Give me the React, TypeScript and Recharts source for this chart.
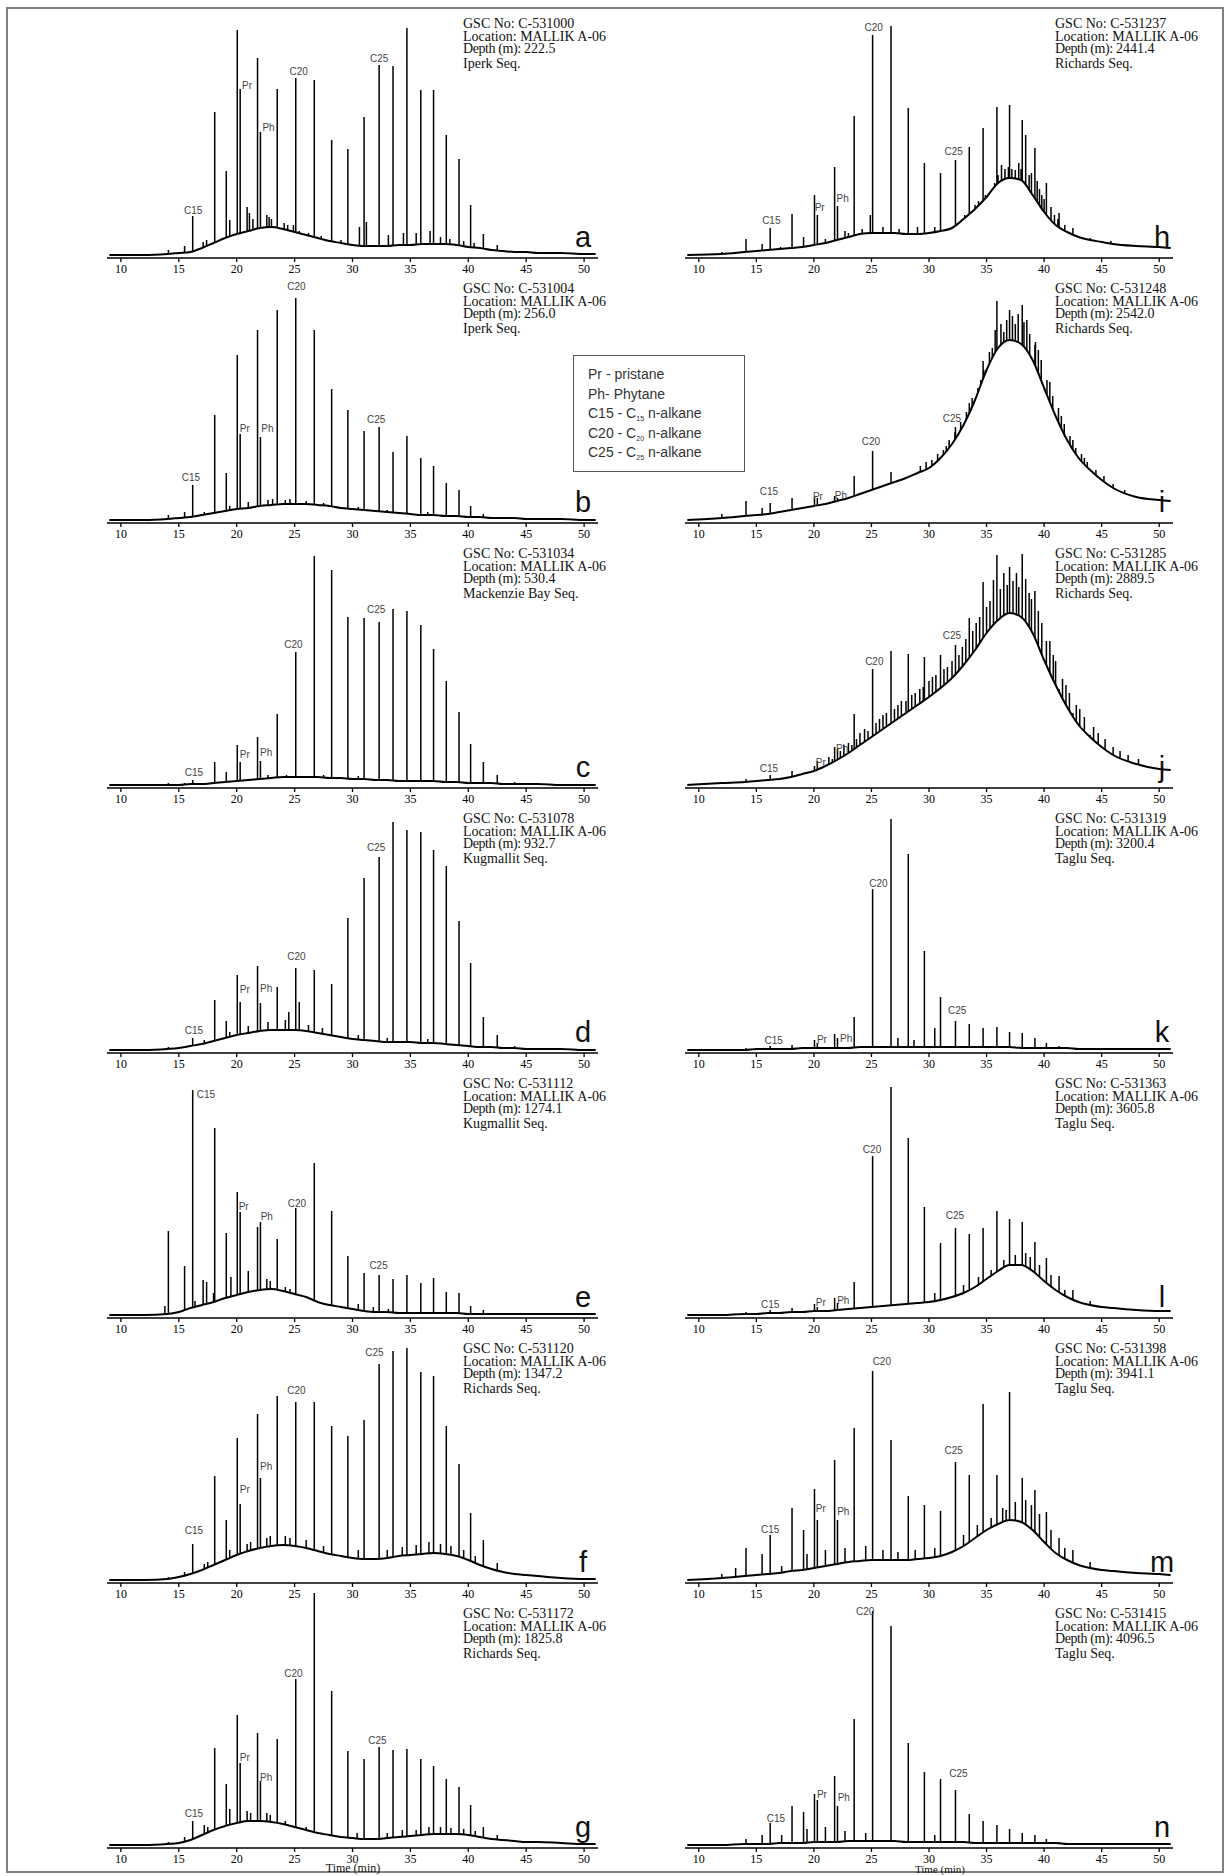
import React from "react"
import { ComposedChart, Area, Scatter, XAxis, YAxis } from "recharts"

// retention times (min) of the main peaks: C13?, C14, iso, C15, C16, iso, C17, Pr, C18, Ph, C19 ... C35
const TIMES = [12.0, 14.1, 15.5, 16.2, 18.1, 19.1, 20.05, 20.3, 21.8, 22.05, 23.5, 25.1, 26.7, 28.2, 29.6, 31.0, 32.3, 33.5, 34.7, 35.9, 37.0, 38.1, 39.2, 40.2, 41.3, 42.5, 44.0]
// sample times of the unresolved hump
const HUMP_T = [9, 12, 14, 15, 16, 17, 18, 19, 20, 21, 22, 23, 24, 25, 26, 27, 28, 29, 30, 31, 32, 33, 34, 35, 36, 37, 38, 39, 40, 41, 42, 43, 44, 45, 46, 48, 50, 51]
const TICKS = [10, 15, 20, 25, 30, 35, 40, 45, 50]
const LABEL_NAMES = ["C15", "Pr", "Ph", "C20", "C25"]

// ── a ──
const A_PEAKS = [0, 5, 9, 39, 143, 84, 225, 166, 197, 123, 166, 177, 175, 115, 106, 138, 190, 189, 227, 165, 165, 120, 96, 50, 21, 10, 4]
const A_HUMP = [0, 0, 1, 2, 3, 7, 12, 17, 21, 24, 27, 28, 26, 23, 20, 17, 14, 12, 10, 9, 9, 9, 10, 10, 11, 11, 11, 10, 8, 7, 5, 4, 3, 3, 2, 2, 1, 1]
const A_MINOR = [[17.1, 13], [17.4, 15], [18.0, 12], [19.4, 35], [20.9, 48], [21.1, 42], [21.4, 36], [22.6, 40], [22.8, 38], [23.0, 36], [24.1, 32], [24.4, 30], [24.9, 30], [25.4, 24], [26.2, 22], [27.3, 19], [29.0, 15], [30.6, 28], [31.2, 33], [33.1, 20], [34.4, 22], [35.5, 22], [36.7, 24], [37.6, 18], [38.4, 16], [39.6, 14], [40.5, 12]]
const A_LABELS = [[16.25, 45], [20.9, 170], [22.75, 128], [25.35, 184], [32.3, 197]]

// ── b ──
const B_PEAKS = [0, 5, 8, 35, 105, 47, 165, 86, 190, 83, 210, 222, 190, 131, 110, 89, 93, 68, 84, 62, 54, 37, 30, 14, 6, 3, 0]
const B_HUMP = [0, 0, 1, 2, 3, 5, 7, 9, 11, 12, 14, 15, 16, 16, 16, 15, 14, 12, 11, 10, 9, 8, 7, 6, 5, 5, 4, 4, 3, 3, 2, 2, 2, 1, 1, 1, 0, 0]
const B_MINOR = [[17.2, 8], [19.4, 14], [21.0, 18], [22.7, 20], [23.1, 21], [24.2, 20], [24.6, 21], [26.0, 19], [27.5, 17], [30.5, 13], [33.0, 10], [36.5, 8]]
const B_LABELS = [[16.05, 43], [20.7, 92], [22.65, 92], [25.15, 234], [32.05, 101]]

// ── c ──
const C_PEAKS = [0, 2, 2, 5, 23, 13, 40, 23, 48, 24, 71, 133, 229, 215, 168, 167, 163, 176, 174, 160, 136, 104, 73, 41, 23, 10, 3]
const C_HUMP = [0, 0, 0, 0, 1, 1, 2, 3, 4, 5, 6, 7, 8, 8, 8, 8, 7, 7, 6, 6, 5, 5, 4, 4, 4, 4, 3, 3, 2, 2, 2, 1, 1, 1, 1, 0, 0, 0]
const C_MINOR = [[22.7, 10], [24.3, 10], [27.5, 10], [30.5, 9]]
const C_LABELS = [[16.3, 13], [20.7, 31], [22.55, 33], [24.9, 141], [32.05, 176]]

// ── d ──
const D_PEAKS = [0, 3, 4, 12, 50, 29, 75, 48, 84, 47, 63, 82, 80, 66, 132, 172, 193, 228, 220, 218, 200, 184, 129, 87, 33, 15, 4]
const D_HUMP = [0, 0, 1, 2, 4, 6, 9, 12, 15, 17, 19, 20, 20, 20, 19, 17, 15, 13, 11, 10, 9, 8, 8, 8, 7, 7, 6, 5, 4, 3, 3, 2, 2, 1, 1, 1, 0, 0]
const D_MINOR = [[17.2, 10], [19.4, 18], [21.0, 24], [22.7, 28], [24.2, 30], [24.5, 38], [25.4, 48], [26.2, 25], [27.4, 22], [30.5, 15], [33.0, 12], [36.5, 11]]
const D_LABELS = [[16.3, 20], [20.7, 61], [22.55, 62], [25.15, 94], [32.05, 203]]

// ── e ──
const E_PEAKS = [0, 84, 49, 225, 187, 82, 123, 103, 88, 93, 76, 107, 152, 104, 59, 42, 40, 36, 40, 32, 37, 23, 22, 9, 5, 2, 0]
const E_HUMP = [0, 0, 1, 3, 7, 10, 13, 17, 20, 23, 25, 26, 24, 21, 18, 13, 10, 8, 6, 4, 3, 3, 2, 2, 2, 2, 2, 2, 1, 1, 1, 1, 1, 1, 1, 1, 1, 1]
const E_MINOR = [[13.8, 9], [16.4, 14], [17.1, 35], [17.4, 33], [18.0, 22], [19.5, 38], [21.0, 44], [22.6, 36], [22.9, 34], [24.2, 28], [24.6, 26], [30.5, 11], [31.8, 8], [33.1, 6]]
const E_LABELS = [[17.35, 221], [20.6, 109], [22.6, 99], [25.2, 112], [32.25, 50]]

// ── f ──
const F_PEAKS = [0, 3, 8, 36, 104, 60, 142, 76, 166, 102, 184, 178, 178, 154, 144, 160, 216, 229, 232, 208, 204, 154, 116, 67, 40, 17, 6]
const F_HUMP = [0, 0, 1, 3, 6, 10, 15, 20, 25, 29, 32, 34, 35, 34, 32, 29, 26, 24, 22, 21, 21, 22, 24, 25, 26, 27, 26, 24, 20, 15, 11, 8, 6, 5, 4, 2, 1, 1]
const F_MINOR = [[17.2, 16], [17.5, 18], [19.4, 30], [20.9, 36], [21.2, 38], [22.6, 42], [22.9, 44], [24.2, 44], [24.6, 42], [26.0, 40], [27.5, 34], [30.5, 30], [33.0, 30], [34.3, 33], [35.5, 35], [36.6, 38], [37.6, 36], [38.5, 34], [39.6, 30], [40.6, 24]]
const F_LABELS = [[16.3, 50], [20.7, 91], [22.55, 114], [25.15, 190], [31.9, 228]]

// ── g ──
const G_PEAKS = [0, 3, 8, 24, 97, 61, 130, 82, 112, 64, 106, 166, 252, 154, 94, 86, 98, 95, 96, 86, 79, 66, 58, 40, 18, 10, 4]
const G_HUMP = [0, 0, 1, 2, 5, 10, 15, 19, 22, 24, 24, 23, 21, 18, 15, 12, 10, 8, 7, 6, 6, 7, 8, 9, 10, 11, 11, 11, 10, 8, 6, 5, 4, 3, 3, 2, 1, 1]
const G_MINOR = [[17.2, 20], [17.5, 18], [19.4, 36], [20.9, 34], [21.2, 32], [22.6, 32], [22.9, 30], [24.2, 24], [26.0, 18], [30.4, 12], [33.0, 12], [34.3, 15], [35.5, 15], [36.6, 18], [37.6, 18], [38.5, 17], [39.6, 16], [40.6, 14]]
const G_LABELS = [[16.3, 32], [20.7, 88], [22.55, 68], [24.9, 172], [32.15, 105]]

// ── h ──
const H_PEAKS = [3, 16, 11, 27, 41, 18, 60, 40, 88, 49, 139, 220, 229, 147, 92, 82, 95, 108, 127, 148, 150, 135, 107, 72, 42, 27, 17]
const H_HUMP = [0, 1, 3, 4, 5, 6, 7, 8, 10, 12, 15, 18, 21, 22, 22, 22, 21, 21, 22, 24, 27, 36, 46, 58, 72, 77, 75, 60, 43, 30, 23, 18, 15, 13, 11, 9, 8, 7]
const H_MINOR = [[17.1, 8], [21.0, 16], [22.7, 24], [23.0, 22], [24.2, 26], [24.9, 40], [26.0, 28], [27.4, 26], [29.0, 28], [30.5, 28], [33.1, 40], [33.5, 42], [34.0, 50], [34.3, 54], [34.9, 60], [35.2, 62], [35.4, 64], [35.7, 72], [36.0, 80], [36.3, 90], [36.6, 86], [36.9, 88], [37.2, 86], [37.5, 85], [37.8, 92], [38.0, 86], [38.4, 120], [38.7, 80], [38.9, 82], [39.4, 74], [39.6, 66], [39.8, 60], [40.0, 56], [40.6, 48], [40.9, 40], [41.2, 36], [41.8, 30], [45.8, 14], [47.0, 10]]
const H_LABELS = [[16.3, 35], [20.5, 48], [22.5, 57], [25.2, 228], [32.15, 104]]

// ── i ──
const I_PEAKS = [6, 19, 12, 17, 22, 12, 23, 22, 24, 22, 44, 69, 48, 38, 48, 57, 93, 117, 159, 219, 210, 215, 175, 117, 72, 45, 33]
const I_HUMP = [0, 2, 4, 5, 6, 8, 10, 12, 14, 16, 19, 22, 26, 30, 34, 38, 42, 47, 52, 62, 76, 95, 120, 150, 172, 180, 176, 160, 132, 104, 80, 62, 50, 40, 32, 23, 20, 19]
const I_MINOR = [[29.25, 54], [29.5, 50], [29.75, 58], [30.25, 60], [30.5, 56], [30.75, 66], [31.25, 70], [31.5, 74], [31.75, 80], [32.25, 88], [32.5, 84], [32.75, 98], [33.25, 108], [33.5, 104], [33.75, 122], [34.25, 132], [34.5, 140], [34.75, 150], [35.25, 168], [35.5, 172], [35.75, 190], [36.25, 196], [36.5, 188], [36.75, 200], [37.25, 204], [37.5, 196], [37.75, 206], [38.25, 198], [38.5, 200], [38.75, 186], [39.25, 178], [39.5, 170], [39.75, 160], [40.25, 140], [40.5, 138], [40.75, 124], [41.25, 112], [41.5, 104], [41.75, 96], [42.25, 84], [42.5, 80], [42.75, 72], [43.25, 66], [43.5, 62], [43.75, 58], [44.5, 50], [45.2, 44], [46.0, 36], [47.0, 30]]
const I_LABELS = [[16.1, 29], [20.35, 24], [22.35, 25], [24.95, 79], [32.0, 102]]

// ── j ──
const J_PEAKS = [2, 6, 5, 10, 14, 10, 19, 24, 38, 36, 71, 116, 134, 131, 128, 130, 140, 167, 203, 230, 218, 231, 194, 144, 96, 72, 50]
const J_HUMP = [0, 2, 3, 4, 5, 6, 8, 11, 14, 19, 25, 32, 40, 48, 56, 64, 72, 80, 88, 97, 107, 120, 135, 152, 165, 172, 168, 152, 125, 100, 78, 60, 48, 38, 30, 21, 16, 15]
const J_MINOR = [[21.3, 28], [21.6, 26], [22.3, 34], [22.6, 40], [23.0, 42], [23.3, 40], [23.7, 46], [24.0, 52], [24.4, 56], [24.7, 54], [25.4, 62], [25.7, 66], [26.0, 70], [26.3, 72], [27.0, 76], [27.3, 80], [27.6, 84], [28.0, 84], [28.5, 90], [28.8, 92], [29.2, 96], [29.5, 98], [30.0, 104], [30.3, 108], [30.6, 110], [31.3, 116], [31.6, 118], [32.0, 124], [32.6, 130], [32.9, 138], [33.2, 146], [33.8, 154], [34.1, 162], [34.4, 168], [35.0, 178], [35.3, 184], [35.6, 205], [36.2, 196], [36.5, 212], [36.8, 200], [37.3, 204], [37.6, 212], [37.8, 198], [38.4, 206], [38.7, 192], [38.9, 186], [39.5, 174], [39.8, 162], [40.5, 144], [40.8, 130], [41.0, 124], [41.6, 106], [41.9, 100], [42.2, 92], [42.8, 80], [43.1, 76], [43.5, 68], [44.3, 58], [44.7, 52], [45.3, 46], [46.0, 38], [46.6, 34], [47.3, 30], [48.2, 26]]
const J_LABELS = [[16.1, 17], [20.6, 23], [22.45, 37], [25.25, 124], [32.0, 150]]

// ── k ──
const K_PEAKS = [0, 2, 2, 4, 5, 3, 10, 7, 16, 12, 33, 161, 231, 196, 99, 53, 29, 26, 22, 23, 18, 17, 12, 7, 4, 2, 0]
const K_HUMP = [0, 0, 0, 1, 1, 1, 1, 2, 2, 2, 2, 2, 3, 3, 3, 3, 3, 3, 3, 3, 3, 3, 3, 3, 3, 3, 2, 2, 2, 2, 2, 1, 1, 1, 1, 1, 1, 1]
const K_MINOR = [[30.5, 22], [27.3, 12], [28.7, 10]]
const K_LABELS = [[16.5, 10], [20.7, 11], [22.8, 12], [25.6, 167], [32.45, 40]]

// ── l ──
const L_PEAKS = [0, 3, 2, 5, 7, 4, 11, 8, 17, 12, 33, 159, 228, 177, 108, 72, 87, 81, 87, 104, 96, 93, 73, 57, 39, 25, 14]
const L_HUMP = [0, 0, 1, 1, 2, 2, 3, 3, 4, 4, 5, 6, 7, 8, 9, 10, 11, 12, 13, 15, 18, 22, 28, 36, 44, 50, 50, 44, 34, 25, 18, 13, 10, 8, 7, 5, 4, 4]
const L_MINOR = [[30.5, 22], [33.0, 30], [34.3, 38], [35.4, 45], [36.5, 55], [37.5, 60], [38.4, 62], [38.8, 58], [39.6, 50], [40.6, 40], [41.8, 25]]
const L_LABELS = [[16.2, 11], [20.6, 13], [22.55, 15], [25.05, 166], [32.25, 100]]

// ── m ──
const M_PEAKS = [6, 32, 26, 45, 72, 50, 91, 60, 120, 60, 152, 209, 140, 84, 75, 69, 118, 105, 176, 105, 188, 102, 90, 68, 42, 30, 18]
const M_HUMP = [0, 2, 4, 5, 6, 7, 9, 10, 12, 14, 16, 18, 19, 20, 20, 20, 20, 21, 22, 24, 28, 34, 42, 50, 56, 60, 58, 50, 38, 27, 20, 15, 12, 10, 9, 7, 6, 5]
const M_MINOR = [[13.2, 12], [17.2, 14], [19.4, 26], [21.0, 30], [22.7, 32], [24.5, 34], [26.0, 30], [27.3, 28], [28.8, 30], [30.5, 32], [33.0, 45], [34.2, 55], [35.4, 62], [36.4, 72], [36.7, 70], [37.5, 78], [38.4, 80], [38.9, 75], [39.6, 66], [40.6, 50], [41.8, 32], [44.0, 16]]
const M_LABELS = [[16.2, 51], [20.6, 72], [22.55, 69], [25.9, 219], [32.15, 130]]

// ── n ──
const N_PEAKS = [0, 6, 10, 22, 39, 33, 51, 45, 69, 39, 126, 234, 219, 102, 73, 66, 55, 31, 24, 20, 16, 12, 10, 6, 3, 1, 0]
const N_HUMP = [0, 0, 1, 1, 1, 2, 2, 2, 3, 3, 3, 4, 4, 4, 4, 4, 3, 3, 3, 3, 3, 3, 2, 2, 2, 2, 2, 2, 2, 2, 1, 1, 1, 1, 1, 1, 1, 1]
const N_MINOR = [[17.2, 10], [19.4, 16], [21.0, 18], [22.7, 14], [24.5, 12], [30.5, 10]]
const N_LABELS = [[16.7, 27], [20.7, 51], [22.6, 48], [24.45, 234], [32.55, 72]]

type Panel = {
  id: string
  gsc: string
  depth: string
  seq: string
  peaks: number[]
  hump: number[]
  minor: number[][]
  labels: number[][]
}

const LEFT: Panel[] = [
  { id: "a", gsc: "C-531000", depth: "222.5", seq: "Iperk Seq.", peaks: A_PEAKS, hump: A_HUMP, minor: A_MINOR, labels: A_LABELS },
  { id: "b", gsc: "C-531004", depth: "256.0", seq: "Iperk Seq.", peaks: B_PEAKS, hump: B_HUMP, minor: B_MINOR, labels: B_LABELS },
  { id: "c", gsc: "C-531034", depth: "530.4", seq: "Mackenzie Bay Seq.", peaks: C_PEAKS, hump: C_HUMP, minor: C_MINOR, labels: C_LABELS },
  { id: "d", gsc: "C-531078", depth: "932.7", seq: "Kugmallit Seq.", peaks: D_PEAKS, hump: D_HUMP, minor: D_MINOR, labels: D_LABELS },
  { id: "e", gsc: "C-531112", depth: "1274.1", seq: "Kugmallit Seq.", peaks: E_PEAKS, hump: E_HUMP, minor: E_MINOR, labels: E_LABELS },
  { id: "f", gsc: "C-531120", depth: "1347.2", seq: "Richards Seq.", peaks: F_PEAKS, hump: F_HUMP, minor: F_MINOR, labels: F_LABELS },
  { id: "g", gsc: "C-531172", depth: "1825.8", seq: "Richards Seq.", peaks: G_PEAKS, hump: G_HUMP, minor: G_MINOR, labels: G_LABELS },
]

const RIGHT: Panel[] = [
  { id: "h", gsc: "C-531237", depth: "2441.4", seq: "Richards Seq.", peaks: H_PEAKS, hump: H_HUMP, minor: H_MINOR, labels: H_LABELS },
  { id: "i", gsc: "C-531248", depth: "2542.0", seq: "Richards Seq.", peaks: I_PEAKS, hump: I_HUMP, minor: I_MINOR, labels: I_LABELS },
  { id: "j", gsc: "C-531285", depth: "2889.5", seq: "Richards Seq.", peaks: J_PEAKS, hump: J_HUMP, minor: J_MINOR, labels: J_LABELS },
  { id: "k", gsc: "C-531319", depth: "3200.4", seq: "Taglu Seq.", peaks: K_PEAKS, hump: K_HUMP, minor: K_MINOR, labels: K_LABELS },
  { id: "l", gsc: "C-531363", depth: "3605.8", seq: "Taglu Seq.", peaks: L_PEAKS, hump: L_HUMP, minor: L_MINOR, labels: L_LABELS },
  { id: "m", gsc: "C-531398", depth: "3941.1", seq: "Taglu Seq.", peaks: M_PEAKS, hump: M_HUMP, minor: M_MINOR, labels: M_LABELS },
  { id: "n", gsc: "C-531415", depth: "4096.5", seq: "Taglu Seq.", peaks: N_PEAKS, hump: N_HUMP, minor: N_MINOR, labels: N_LABELS },
]

const SERIF = '"Liberation Serif", "Times New Roman", serif'
const SANS = '"Liberation Sans", Arial, sans-serif'
const PLOT_H = 260
const AXIS_H = 24
const ROW_Y = (i: number) => 258 + 265 * i

// each peak is a vertical stroke from the baseline, broken by a null point
function spikeRows(p: Panel) {
  const rows: { t: number; y: number | null }[] = []
  const add = (t: number, h: number) => {
    if (h > 0) rows.push({ t, y: 0 }, { t, y: h }, { t, y: null })
  }
  TIMES.forEach((t, i) => add(t, p.peaks[i]))
  p.minor.forEach(([t, h]) => add(t, h))
  return rows
}

const LabelShape = (props: any) => (
  <text
    x={props.cx}
    y={props.cy}
    textAnchor="middle"
    dominantBaseline="central"
    fontSize={10}
    fontFamily={SANS}
    fill="#444"
  >
    {props.payload.name}
  </text>
)

function Chromatogram({ p, left, width, axisY }: { p: Panel; left: number; width: number; axisY: number }) {
  const spikes = spikeRows(p)
  const hump = HUMP_T.map((t, i) => ({ t, y: p.hump[i] }))
  const labels = LABEL_NAMES.map((name, i) => ({ t: p.labels[i][0], y: p.labels[i][1], name }))
  return (
    <div style={{ position: "absolute", left, top: axisY - PLOT_H }}>
      <ComposedChart width={width} height={PLOT_H + AXIS_H} margin={{ top: 0, right: 0, bottom: 0, left: 0 }}>
        <XAxis
          type="number"
          dataKey="t"
          domain={[8.8, 51.2]}
          ticks={TICKS}
          interval={0}
          allowDataOverflow
          height={AXIS_H}
          tickSize={4}
          stroke="#000"
          strokeWidth={1.3}
          tick={{ fill: "#000", fontSize: 12, fontFamily: SERIF }}
        />
        <YAxis hide domain={[-3, 257]} allowDataOverflow />
        <Area
          data={spikes}
          dataKey="y"
          type="linear"
          stroke="#000"
          strokeWidth={1.5}
          fill="none"
          baseValue={0}
          connectNulls={false}
          dot={false}
          activeDot={false}
          isAnimationActive={false}
        />
        <Area
          data={hump}
          dataKey="y"
          type="monotone"
          stroke="#000"
          strokeWidth={2}
          fill="#fff"
          fillOpacity={1}
          baseValue={0}
          dot={false}
          activeDot={false}
          isAnimationActive={false}
        />
        <Scatter data={labels} dataKey="y" shape={LabelShape} isAnimationActive={false} />
      </ComposedChart>
    </div>
  )
}

function InfoBlock({ p, left, top }: { p: Panel; left: number; top: number }) {
  return (
    <div style={{ position: "absolute", left, top, fontFamily: SERIF, fontSize: 14, lineHeight: "12.5px", color: "#111", whiteSpace: "pre" }}>
      <div>GSC No: {p.gsc}</div>
      <div>Location: MALLIK A-06</div>
      <div>
        <span style={{ display: "inline-block", width: 61, letterSpacing: -0.4 }}>Depth (m):</span>
        {p.depth}
      </div>
      <div style={{ marginTop: 2 }}>{p.seq}</div>
    </div>
  )
}

function Letter({ id, cx, axisY }: { id: string; cx: number; axisY: number }) {
  return (
    <div style={{ position: "absolute", left: cx - 20, width: 40, top: axisY - 37, textAlign: "center", fontFamily: SANS, fontSize: 29, lineHeight: "32px", color: "#111" }}>
      {id}
    </div>
  )
}

export default function App() {
  const sub = { fontSize: 7, position: "relative", top: 3, lineHeight: 0 } as React.CSSProperties
  return (
    <div style={{ position: "absolute", left: 0, top: 0, width: 1226, height: 1876, background: "#fff", overflow: "hidden" }}>
      <div style={{ position: "absolute", left: 6, top: 7, width: 1218, height: 1866, border: "2px solid #808080", boxSizing: "border-box" }} />

      {LEFT.map((p, i) => (
        <React.Fragment key={p.id}>
          <Chromatogram p={p} left={107} width={491} axisY={ROW_Y(i)} />
          <InfoBlock p={p} left={463} top={ROW_Y(i) - 240} />
          <Letter id={p.id} cx={583} axisY={ROW_Y(i)} />
        </React.Fragment>
      ))}
      {RIGHT.map((p, i) => (
        <React.Fragment key={p.id}>
          <Chromatogram p={p} left={685} width={488} axisY={ROW_Y(i)} />
          <InfoBlock p={p} left={1055} top={ROW_Y(i) - 240} />
          <Letter id={p.id} cx={1162} axisY={ROW_Y(i)} />
        </React.Fragment>
      ))}

      {/* legend box */}
      <div style={{ position: "absolute", left: 573, top: 355, width: 172, height: 117, border: "1px solid #555", boxSizing: "border-box", padding: "9px 0 0 14px", fontFamily: SANS, fontSize: 14, lineHeight: "19.5px", color: "#333" }}>
        <div>Pr - pristane</div>
        <div>Ph- Phytane</div>
        <div>C15 - C<span style={sub}>15</span> n-alkane</div>
        <div>C20 - C<span style={sub}>20</span> n-alkane</div>
        <div>C25 - C<span style={sub}>25</span> n-alkane</div>
      </div>

      <div style={{ position: "absolute", left: 303, width: 100, top: 1862, textAlign: "center", fontFamily: SERIF, fontSize: 12, lineHeight: "12px", color: "#111" }}>Time (min)</div>
      <div style={{ position: "absolute", left: 890, width: 100, top: 1864, textAlign: "center", fontFamily: SERIF, fontSize: 11, lineHeight: "11px", color: "#111" }}>Time (min)</div>
    </div>
  )
}
